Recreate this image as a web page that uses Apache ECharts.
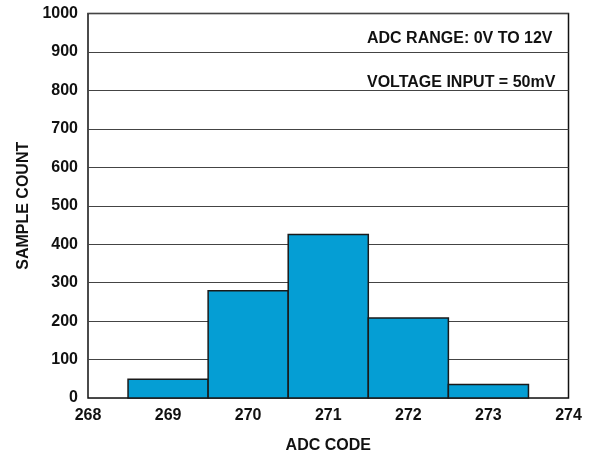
<!DOCTYPE html>
<html>
<head>
<meta charset="utf-8">
<script src="https://cdn.jsdelivr.net/npm/echarts@6/dist/echarts.min.js"></script>
<style>html,body{margin:0;padding:0;background:#fff}#c{width:589px;height:452px}</style>
</head>
<body>
<div id="c"></div>
<script>
const codes = [269, 270, 271, 272, 273];
const counts = [49, 279, 425, 208, 35];
const xTicks = [268, 269, 270, 271, 272, 273, 274];
const yTicks = [0, 100, 200, 300, 400, 500, 600, 700, 800, 900, 1000];
const notes = ['ADC RANGE: 0V TO 12V', 'VOLTAGE INPUT = 50mV'];

const FONT = '"Liberation Sans", Arial, sans-serif';
const chart = echarts.init(document.getElementById('c'), null, {renderer: 'canvas'});
const data = codes.map((c, i) => [c, counts[i]]);
chart.setOption({
  animation: false,
  backgroundColor: '#fff',
  grid: {left: 88, top: 13.5, right: 20.5, bottom: 54, show: true, borderColor: '#111', borderWidth: 1.5,
         backgroundColor: 'transparent', containLabel: false, outerBoundsMode: 'none'},
  xAxis: {
    type: 'value', min: xTicks[0], max: xTicks[xTicks.length - 1], interval: 1,
    name: 'ADC CODE', nameLocation: 'middle', nameGap: 40,
    nameTextStyle: {fontFamily: FONT, fontWeight: 'bold', fontSize: 16, color: '#111'},
    axisLine: {show: false}, axisTick: {show: false}, splitLine: {show: false},
    axisLabel: {fontFamily: FONT, fontWeight: 'bold', fontSize: 16, color: '#111', margin: 10,
                formatter: v => String(v)}
  },
  yAxis: {
    type: 'value', min: yTicks[0], max: yTicks[yTicks.length - 1], interval: 100,
    name: 'SAMPLE COUNT', nameLocation: 'middle', nameGap: 48,
    nameTextStyle: {fontFamily: FONT, fontWeight: 'bold', fontSize: 16, color: '#111'},
    axisLine: {show: false}, axisTick: {show: false},
    splitLine: {show: true, lineStyle: {color: '#444', width: 1}},
    axisLabel: {fontFamily: FONT, fontWeight: 'bold', fontSize: 16, color: '#111', margin: 10,
                formatter: v => String(v)}
  },
  graphic: [
    {type: 'text', left: 367, top: 31, z: 100, style: {text: notes[0], fontFamily: FONT, fontWeight: 'bold', fontSize: 16, fill: '#111'}},
    {type: 'text', left: 367, top: 75, z: 100, style: {text: notes[1], fontFamily: FONT, fontWeight: 'bold', fontSize: 16, fill: '#111'}}
  ],
  series: [{
    type: 'custom',
    data: data,
    renderItem: function (params, api) {
      const x = api.value(0), y = api.value(1);
      const p1 = api.coord([x - 0.5, y]);
      const p2 = api.coord([x + 0.5, 0]);
      return {
        type: 'rect',
        shape: {x: p1[0], y: p1[1], width: p2[0] - p1[0], height: p2[1] - p1[1]},
        style: {fill: '#059ED4', stroke: '#1a1a1a', lineWidth: 1.5}
      };
    }
  }]
});
</script>
</body>
</html>
